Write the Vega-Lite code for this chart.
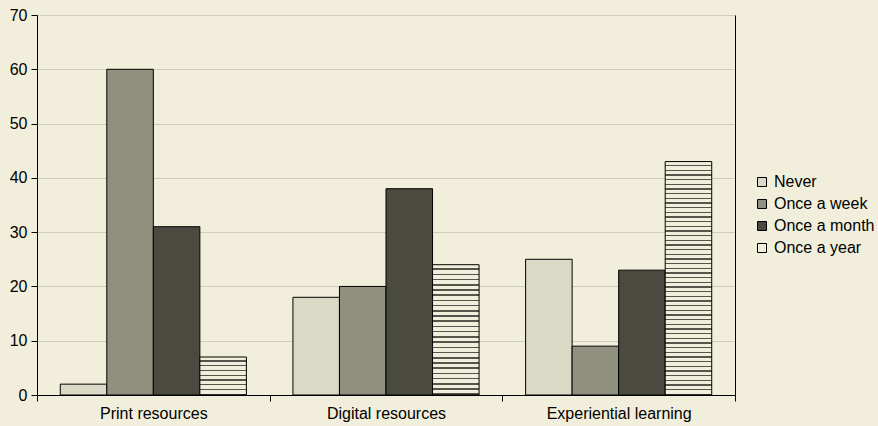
{
 "$schema": "https://vega.github.io/schema/vega-lite/v6.json",
 "width": 698,
 "height": 380,
 "autosize": {"type": "none"},
 "padding": {"left": 37, "top": 15, "right": 143, "bottom": 31},
 "background": "#f1efdb",
 "config": {"view": {"stroke": null}, "font": "Liberation Sans"},
 "data": {"values": [
  {"category": "Print resources", "freq": "Never", "value": 2},
  {"category": "Print resources", "freq": "Once a week", "value": 60},
  {"category": "Print resources", "freq": "Once a month", "value": 31},
  {"category": "Print resources", "freq": "Once a year", "value": 7},
  {"category": "Digital resources", "freq": "Never", "value": 18},
  {"category": "Digital resources", "freq": "Once a week", "value": 20},
  {"category": "Digital resources", "freq": "Once a month", "value": 38},
  {"category": "Digital resources", "freq": "Once a year", "value": 24},
  {"category": "Experiential learning", "freq": "Never", "value": 25},
  {"category": "Experiential learning", "freq": "Once a week", "value": 9},
  {"category": "Experiential learning", "freq": "Once a month", "value": 23},
  {"category": "Experiential learning", "freq": "Once a year", "value": 43}
 ]},
 "encoding": {
  "x": {"field": "category", "type": "nominal", "sort": ["Print resources", "Digital resources", "Experiential learning"],
   "scale": {"paddingInner": 0, "paddingOuter": 0},
   "axis": {"title": null, "labelAngle": 0, "tickBand": "extent", "domainColor": "black", "tickColor": "black", "tickSize": 6, "labelFontSize": 16, "labelColor": "black", "labelPadding": 4, "grid": false}},
  "xOffset": {"field": "freq", "type": "nominal", "sort": ["Never", "Once a week", "Once a month", "Once a year"],
   "scale": {"paddingInner": 0, "paddingOuter": 0.5}}
 },
 "layer": [
  {
   "mark": {"type": "bar", "stroke": "black", "strokeWidth": 1},
   "encoding": {
    "y": {"field": "value", "type": "quantitative", "scale": {"domain": [0, 70]},
     "axis": {"title": null, "values": [0, 10, 20, 30, 40, 50, 60, 70], "domainColor": "black", "tickColor": "black", "tickSize": 6, "labelFontSize": 16, "labelColor": "black", "labelPadding": 4, "gridColor": "#cecdb9", "gridWidth": 1}},
    "fill": {"field": "freq", "type": "nominal", "sort": ["Never", "Once a week", "Once a month", "Once a year"],
     "scale": {"domain": ["Never", "Once a week", "Once a month", "Once a year"],
      "range": ["#dad9c6", "#90907f", "#4a4a40", "#f1efdb"]},
     "legend": {"title": null, "orient": "none", "legendX": 717, "legendY": 159, "labelFontSize": 16, "labelColor": "black", "symbolType": "square", "symbolSize": 81, "symbolStrokeColor": "black", "symbolStrokeWidth": 1, "rowPadding": 6, "labelOffset": 4, "padding": 0,
      "encode": {"symbols": {"update": {
       "stroke": {"value": "black"}, "strokeWidth": {"value": 1}, "opacity": {"value": 1},
       "fill": {"signal": "datum.value === 'Once a year' ? {gradient: 'linear', x1: 0, y1: 0, x2: 0, y2: 1, stops: [{offset: 0.36, color: '#f1efdb'}, {offset: 0.36, color: '#3a3a33'}, {offset: 0.64, color: '#3a3a33'}, {offset: 0.64, color: '#f1efdb'}]} : datum.value === 'Never' ? '#dad9c6' : datum.value === 'Once a week' ? '#90907f' : '#4a4a40'"}}}}},
     "condition": [
      {"test": "datum.freq === 'Once a year' && datum.category === 'Print resources'",
       "value": {"gradient": "linear", "x1": 0, "y1": 0, "x2": 0, "y2": 1, "stops": [
        {"offset":0.0875,"color":"#f1efdb"},{"offset":0.0875,"color":"#55554b"},{"offset":0.125,"color":"#55554b"},{"offset":0.125,"color":"#f1efdb"},
        {"offset":0.2125,"color":"#f1efdb"},{"offset":0.2125,"color":"#55554b"},{"offset":0.25,"color":"#55554b"},{"offset":0.25,"color":"#f1efdb"},
        {"offset":0.3375,"color":"#f1efdb"},{"offset":0.3375,"color":"#55554b"},{"offset":0.375,"color":"#55554b"},{"offset":0.375,"color":"#f1efdb"},
        {"offset":0.4625,"color":"#f1efdb"},{"offset":0.4625,"color":"#55554b"},{"offset":0.5,"color":"#55554b"},{"offset":0.5,"color":"#f1efdb"},
        {"offset":0.5875,"color":"#f1efdb"},{"offset":0.5875,"color":"#55554b"},{"offset":0.625,"color":"#55554b"},{"offset":0.625,"color":"#f1efdb"},
        {"offset":0.7125,"color":"#f1efdb"},{"offset":0.7125,"color":"#55554b"},{"offset":0.75,"color":"#55554b"},{"offset":0.75,"color":"#f1efdb"},
        {"offset":0.8375,"color":"#f1efdb"},{"offset":0.8375,"color":"#55554b"},{"offset":0.875,"color":"#55554b"},{"offset":0.875,"color":"#f1efdb"},
        {"offset":0.9625,"color":"#f1efdb"},{"offset":0.9625,"color":"#55554b"},{"offset":1,"color":"#55554b"}]}},
      {"test": "datum.freq === 'Once a year' && datum.category === 'Digital resources'",
       "value": {"gradient": "linear", "x1": 0, "y1": 0, "x2": 0, "y2": 1, "stops": [
        {"offset":0.028,"color":"#f1efdb"},{"offset":0.028,"color":"#55554b"},{"offset":0.04,"color":"#55554b"},{"offset":0.04,"color":"#f1efdb"},
        {"offset":0.068,"color":"#f1efdb"},{"offset":0.068,"color":"#55554b"},{"offset":0.08,"color":"#55554b"},{"offset":0.08,"color":"#f1efdb"},
        {"offset":0.108,"color":"#f1efdb"},{"offset":0.108,"color":"#55554b"},{"offset":0.12,"color":"#55554b"},{"offset":0.12,"color":"#f1efdb"},
        {"offset":0.148,"color":"#f1efdb"},{"offset":0.148,"color":"#55554b"},{"offset":0.16,"color":"#55554b"},{"offset":0.16,"color":"#f1efdb"},
        {"offset":0.188,"color":"#f1efdb"},{"offset":0.188,"color":"#55554b"},{"offset":0.2,"color":"#55554b"},{"offset":0.2,"color":"#f1efdb"},
        {"offset":0.228,"color":"#f1efdb"},{"offset":0.228,"color":"#55554b"},{"offset":0.24,"color":"#55554b"},{"offset":0.24,"color":"#f1efdb"},
        {"offset":0.268,"color":"#f1efdb"},{"offset":0.268,"color":"#55554b"},{"offset":0.28,"color":"#55554b"},{"offset":0.28,"color":"#f1efdb"},
        {"offset":0.308,"color":"#f1efdb"},{"offset":0.308,"color":"#55554b"},{"offset":0.32,"color":"#55554b"},{"offset":0.32,"color":"#f1efdb"},
        {"offset":0.348,"color":"#f1efdb"},{"offset":0.348,"color":"#55554b"},{"offset":0.36,"color":"#55554b"},{"offset":0.36,"color":"#f1efdb"},
        {"offset":0.388,"color":"#f1efdb"},{"offset":0.388,"color":"#55554b"},{"offset":0.4,"color":"#55554b"},{"offset":0.4,"color":"#f1efdb"},
        {"offset":0.428,"color":"#f1efdb"},{"offset":0.428,"color":"#55554b"},{"offset":0.44,"color":"#55554b"},{"offset":0.44,"color":"#f1efdb"},
        {"offset":0.468,"color":"#f1efdb"},{"offset":0.468,"color":"#55554b"},{"offset":0.48,"color":"#55554b"},{"offset":0.48,"color":"#f1efdb"},
        {"offset":0.508,"color":"#f1efdb"},{"offset":0.508,"color":"#55554b"},{"offset":0.52,"color":"#55554b"},{"offset":0.52,"color":"#f1efdb"},
        {"offset":0.548,"color":"#f1efdb"},{"offset":0.548,"color":"#55554b"},{"offset":0.56,"color":"#55554b"},{"offset":0.56,"color":"#f1efdb"},
        {"offset":0.588,"color":"#f1efdb"},{"offset":0.588,"color":"#55554b"},{"offset":0.6,"color":"#55554b"},{"offset":0.6,"color":"#f1efdb"},
        {"offset":0.628,"color":"#f1efdb"},{"offset":0.628,"color":"#55554b"},{"offset":0.64,"color":"#55554b"},{"offset":0.64,"color":"#f1efdb"},
        {"offset":0.668,"color":"#f1efdb"},{"offset":0.668,"color":"#55554b"},{"offset":0.68,"color":"#55554b"},{"offset":0.68,"color":"#f1efdb"},
        {"offset":0.708,"color":"#f1efdb"},{"offset":0.708,"color":"#55554b"},{"offset":0.72,"color":"#55554b"},{"offset":0.72,"color":"#f1efdb"},
        {"offset":0.748,"color":"#f1efdb"},{"offset":0.748,"color":"#55554b"},{"offset":0.76,"color":"#55554b"},{"offset":0.76,"color":"#f1efdb"},
        {"offset":0.788,"color":"#f1efdb"},{"offset":0.788,"color":"#55554b"},{"offset":0.8,"color":"#55554b"},{"offset":0.8,"color":"#f1efdb"},
        {"offset":0.828,"color":"#f1efdb"},{"offset":0.828,"color":"#55554b"},{"offset":0.84,"color":"#55554b"},{"offset":0.84,"color":"#f1efdb"},
        {"offset":0.868,"color":"#f1efdb"},{"offset":0.868,"color":"#55554b"},{"offset":0.88,"color":"#55554b"},{"offset":0.88,"color":"#f1efdb"},
        {"offset":0.908,"color":"#f1efdb"},{"offset":0.908,"color":"#55554b"},{"offset":0.92,"color":"#55554b"},{"offset":0.92,"color":"#f1efdb"},
        {"offset":0.948,"color":"#f1efdb"},{"offset":0.948,"color":"#55554b"},{"offset":0.96,"color":"#55554b"},{"offset":0.96,"color":"#f1efdb"},
        {"offset":0.988,"color":"#f1efdb"},{"offset":0.988,"color":"#55554b"},{"offset":1,"color":"#55554b"}]}},
      {"test": "datum.freq === 'Once a year' && datum.category === 'Experiential learning'",
       "value": {"gradient": "linear", "x1": 0, "y1": 0, "x2": 0, "y2": 1, "stops": [
        {"offset":0.014,"color":"#f1efdb"},{"offset":0.014,"color":"#55554b"},{"offset":0.02,"color":"#55554b"},{"offset":0.02,"color":"#f1efdb"},
        {"offset":0.034,"color":"#f1efdb"},{"offset":0.034,"color":"#55554b"},{"offset":0.04,"color":"#55554b"},{"offset":0.04,"color":"#f1efdb"},
        {"offset":0.054,"color":"#f1efdb"},{"offset":0.054,"color":"#55554b"},{"offset":0.06,"color":"#55554b"},{"offset":0.06,"color":"#f1efdb"},
        {"offset":0.074,"color":"#f1efdb"},{"offset":0.074,"color":"#55554b"},{"offset":0.08,"color":"#55554b"},{"offset":0.08,"color":"#f1efdb"},
        {"offset":0.094,"color":"#f1efdb"},{"offset":0.094,"color":"#55554b"},{"offset":0.1,"color":"#55554b"},{"offset":0.1,"color":"#f1efdb"},
        {"offset":0.114,"color":"#f1efdb"},{"offset":0.114,"color":"#55554b"},{"offset":0.12,"color":"#55554b"},{"offset":0.12,"color":"#f1efdb"},
        {"offset":0.134,"color":"#f1efdb"},{"offset":0.134,"color":"#55554b"},{"offset":0.14,"color":"#55554b"},{"offset":0.14,"color":"#f1efdb"},
        {"offset":0.154,"color":"#f1efdb"},{"offset":0.154,"color":"#55554b"},{"offset":0.16,"color":"#55554b"},{"offset":0.16,"color":"#f1efdb"},
        {"offset":0.174,"color":"#f1efdb"},{"offset":0.174,"color":"#55554b"},{"offset":0.18,"color":"#55554b"},{"offset":0.18,"color":"#f1efdb"},
        {"offset":0.194,"color":"#f1efdb"},{"offset":0.194,"color":"#55554b"},{"offset":0.2,"color":"#55554b"},{"offset":0.2,"color":"#f1efdb"},
        {"offset":0.214,"color":"#f1efdb"},{"offset":0.214,"color":"#55554b"},{"offset":0.22,"color":"#55554b"},{"offset":0.22,"color":"#f1efdb"},
        {"offset":0.234,"color":"#f1efdb"},{"offset":0.234,"color":"#55554b"},{"offset":0.24,"color":"#55554b"},{"offset":0.24,"color":"#f1efdb"},
        {"offset":0.254,"color":"#f1efdb"},{"offset":0.254,"color":"#55554b"},{"offset":0.26,"color":"#55554b"},{"offset":0.26,"color":"#f1efdb"},
        {"offset":0.274,"color":"#f1efdb"},{"offset":0.274,"color":"#55554b"},{"offset":0.28,"color":"#55554b"},{"offset":0.28,"color":"#f1efdb"},
        {"offset":0.294,"color":"#f1efdb"},{"offset":0.294,"color":"#55554b"},{"offset":0.3,"color":"#55554b"},{"offset":0.3,"color":"#f1efdb"},
        {"offset":0.314,"color":"#f1efdb"},{"offset":0.314,"color":"#55554b"},{"offset":0.32,"color":"#55554b"},{"offset":0.32,"color":"#f1efdb"},
        {"offset":0.334,"color":"#f1efdb"},{"offset":0.334,"color":"#55554b"},{"offset":0.34,"color":"#55554b"},{"offset":0.34,"color":"#f1efdb"},
        {"offset":0.354,"color":"#f1efdb"},{"offset":0.354,"color":"#55554b"},{"offset":0.36,"color":"#55554b"},{"offset":0.36,"color":"#f1efdb"},
        {"offset":0.374,"color":"#f1efdb"},{"offset":0.374,"color":"#55554b"},{"offset":0.38,"color":"#55554b"},{"offset":0.38,"color":"#f1efdb"},
        {"offset":0.394,"color":"#f1efdb"},{"offset":0.394,"color":"#55554b"},{"offset":0.4,"color":"#55554b"},{"offset":0.4,"color":"#f1efdb"},
        {"offset":0.414,"color":"#f1efdb"},{"offset":0.414,"color":"#55554b"},{"offset":0.42,"color":"#55554b"},{"offset":0.42,"color":"#f1efdb"},
        {"offset":0.434,"color":"#f1efdb"},{"offset":0.434,"color":"#55554b"},{"offset":0.44,"color":"#55554b"},{"offset":0.44,"color":"#f1efdb"},
        {"offset":0.454,"color":"#f1efdb"},{"offset":0.454,"color":"#55554b"},{"offset":0.46,"color":"#55554b"},{"offset":0.46,"color":"#f1efdb"},
        {"offset":0.474,"color":"#f1efdb"},{"offset":0.474,"color":"#55554b"},{"offset":0.48,"color":"#55554b"},{"offset":0.48,"color":"#f1efdb"},
        {"offset":0.494,"color":"#f1efdb"},{"offset":0.494,"color":"#55554b"},{"offset":0.5,"color":"#55554b"},{"offset":0.5,"color":"#f1efdb"},
        {"offset":0.514,"color":"#f1efdb"},{"offset":0.514,"color":"#55554b"},{"offset":0.52,"color":"#55554b"},{"offset":0.52,"color":"#f1efdb"},
        {"offset":0.534,"color":"#f1efdb"},{"offset":0.534,"color":"#55554b"},{"offset":0.54,"color":"#55554b"},{"offset":0.54,"color":"#f1efdb"},
        {"offset":0.554,"color":"#f1efdb"},{"offset":0.554,"color":"#55554b"},{"offset":0.56,"color":"#55554b"},{"offset":0.56,"color":"#f1efdb"},
        {"offset":0.574,"color":"#f1efdb"},{"offset":0.574,"color":"#55554b"},{"offset":0.58,"color":"#55554b"},{"offset":0.58,"color":"#f1efdb"},
        {"offset":0.594,"color":"#f1efdb"},{"offset":0.594,"color":"#55554b"},{"offset":0.6,"color":"#55554b"},{"offset":0.6,"color":"#f1efdb"},
        {"offset":0.614,"color":"#f1efdb"},{"offset":0.614,"color":"#55554b"},{"offset":0.62,"color":"#55554b"},{"offset":0.62,"color":"#f1efdb"},
        {"offset":0.634,"color":"#f1efdb"},{"offset":0.634,"color":"#55554b"},{"offset":0.64,"color":"#55554b"},{"offset":0.64,"color":"#f1efdb"},
        {"offset":0.654,"color":"#f1efdb"},{"offset":0.654,"color":"#55554b"},{"offset":0.66,"color":"#55554b"},{"offset":0.66,"color":"#f1efdb"},
        {"offset":0.674,"color":"#f1efdb"},{"offset":0.674,"color":"#55554b"},{"offset":0.68,"color":"#55554b"},{"offset":0.68,"color":"#f1efdb"},
        {"offset":0.694,"color":"#f1efdb"},{"offset":0.694,"color":"#55554b"},{"offset":0.7,"color":"#55554b"},{"offset":0.7,"color":"#f1efdb"},
        {"offset":0.714,"color":"#f1efdb"},{"offset":0.714,"color":"#55554b"},{"offset":0.72,"color":"#55554b"},{"offset":0.72,"color":"#f1efdb"},
        {"offset":0.734,"color":"#f1efdb"},{"offset":0.734,"color":"#55554b"},{"offset":0.74,"color":"#55554b"},{"offset":0.74,"color":"#f1efdb"},
        {"offset":0.754,"color":"#f1efdb"},{"offset":0.754,"color":"#55554b"},{"offset":0.76,"color":"#55554b"},{"offset":0.76,"color":"#f1efdb"},
        {"offset":0.774,"color":"#f1efdb"},{"offset":0.774,"color":"#55554b"},{"offset":0.78,"color":"#55554b"},{"offset":0.78,"color":"#f1efdb"},
        {"offset":0.794,"color":"#f1efdb"},{"offset":0.794,"color":"#55554b"},{"offset":0.8,"color":"#55554b"},{"offset":0.8,"color":"#f1efdb"},
        {"offset":0.814,"color":"#f1efdb"},{"offset":0.814,"color":"#55554b"},{"offset":0.82,"color":"#55554b"},{"offset":0.82,"color":"#f1efdb"},
        {"offset":0.834,"color":"#f1efdb"},{"offset":0.834,"color":"#55554b"},{"offset":0.84,"color":"#55554b"},{"offset":0.84,"color":"#f1efdb"},
        {"offset":0.854,"color":"#f1efdb"},{"offset":0.854,"color":"#55554b"},{"offset":0.86,"color":"#55554b"},{"offset":0.86,"color":"#f1efdb"},
        {"offset":0.874,"color":"#f1efdb"},{"offset":0.874,"color":"#55554b"},{"offset":0.88,"color":"#55554b"},{"offset":0.88,"color":"#f1efdb"},
        {"offset":0.894,"color":"#f1efdb"},{"offset":0.894,"color":"#55554b"},{"offset":0.9,"color":"#55554b"},{"offset":0.9,"color":"#f1efdb"},
        {"offset":0.914,"color":"#f1efdb"},{"offset":0.914,"color":"#55554b"},{"offset":0.92,"color":"#55554b"},{"offset":0.92,"color":"#f1efdb"},
        {"offset":0.934,"color":"#f1efdb"},{"offset":0.934,"color":"#55554b"},{"offset":0.94,"color":"#55554b"},{"offset":0.94,"color":"#f1efdb"},
        {"offset":0.954,"color":"#f1efdb"},{"offset":0.954,"color":"#55554b"},{"offset":0.96,"color":"#55554b"},{"offset":0.96,"color":"#f1efdb"},
        {"offset":0.974,"color":"#f1efdb"},{"offset":0.974,"color":"#55554b"},{"offset":0.98,"color":"#55554b"},{"offset":0.98,"color":"#f1efdb"},
        {"offset":0.994,"color":"#f1efdb"},{"offset":0.994,"color":"#55554b"},{"offset":1,"color":"#55554b"}]}}
     ]}
   }
  },
  {
   "mark": {"type": "bar", "opacity": 0},
   "encoding": {
    "y": {"field": "value", "type": "quantitative",
     "axis": {"orient": "right", "title": null, "labels": false, "ticks": false, "grid": false, "domainColor": "black"}}
   }
  }
 ],
 "resolve": {"axis": {"y": "independent"}}
}
